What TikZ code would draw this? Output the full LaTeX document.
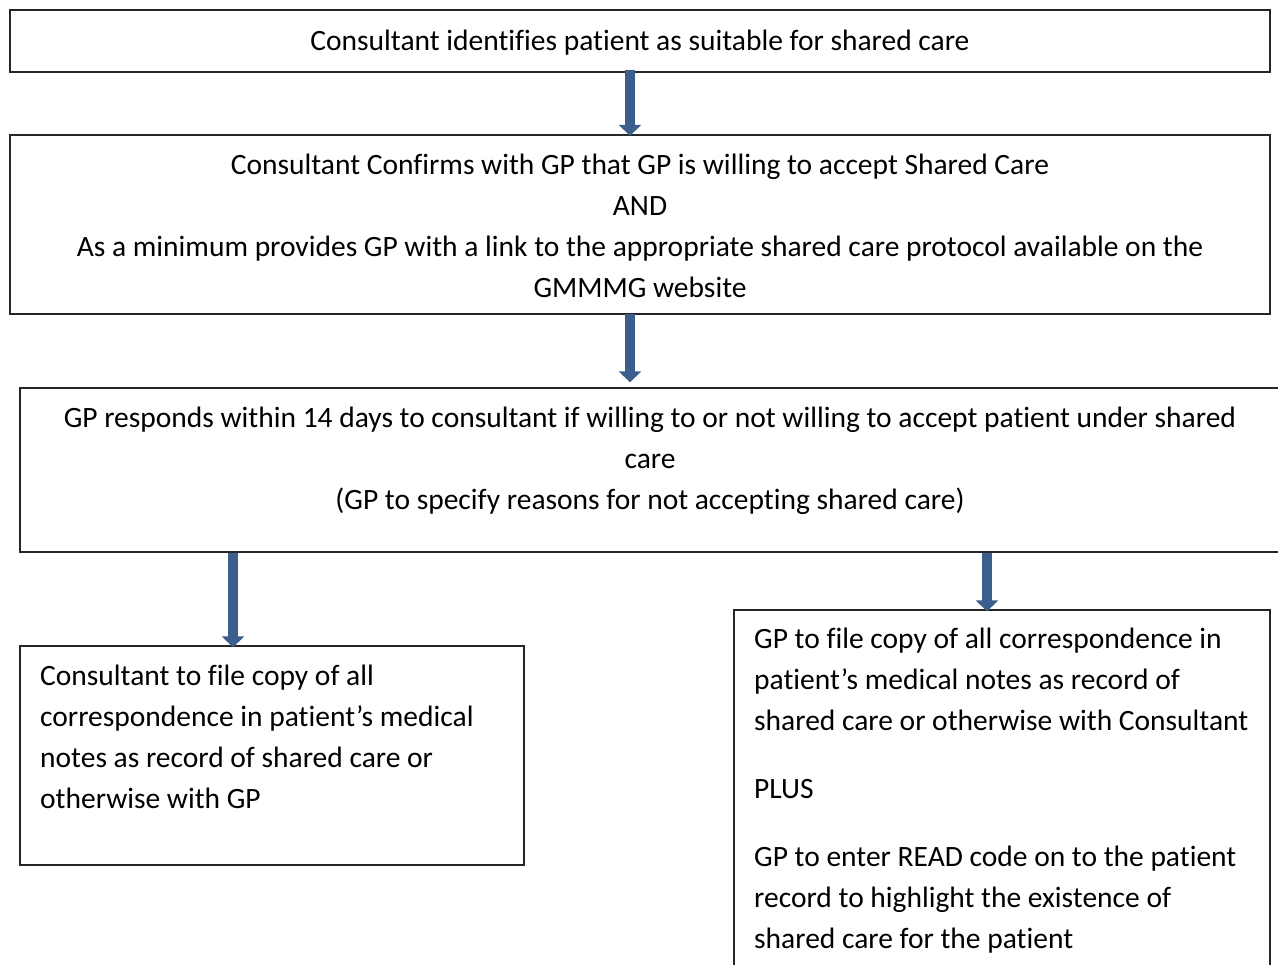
\documentclass[tikz,border=0pt]{standalone}
\usepackage{fontspec}
\setmainfont[Ligatures=NoCommon]{Carlito}
\usetikzlibrary{arrows.meta,positioning}
\definecolor{arrowblue}{RGB}{59,94,140}

\begin{document}
\begin{tikzpicture}[x=1pt,y=-1pt,
  box/.style={draw=black!85, line width=1.3pt, rectangle, inner sep=0pt},
  txt/.style={inner sep=0pt, font=\fontsize{29.5}{41}\selectfont},
  flowarrow/.style={draw=arrowblue, line width=10pt,
    -{Triangle[width=22pt,length=11pt]}}
]
\path[use as bounding box, clip] (0,0) rectangle (1278,965);

% boxes
\node[box, minimum width=1260, minimum height=62] (consult) at (640,41) {};
\node[box, minimum width=1260, minimum height=179] (confirm) at (640,224.5) {};
\node[box, minimum width=1260, minimum height=164] (gpresp) at (650,470) {};
\node[box, minimum width=504, minimum height=219] (consfile) at (272,755.5) {};
\node[box, minimum width=536, minimum height=400] (gpfile) at (1002,810) {};

% texts
\node[txt] (consulttxt) at (640,42.5) {Consultant identifies patient as suitable for shared care};
\node[txt, align=center] (confirmtxt) at (640,225.5)
  {Consultant Confirms with GP that GP is willing to accept Shared Care\\
   AND\\
   As a minimum provides GP with a link to the appropriate shared care protocol available on the\\
   GMMMG website};
\node[txt, align=center] (gpresptxt) at (650,461)
  {GP responds within 14 days to consultant if willing to or not willing to accept patient under shared\\
   care\\
   (GP to specify reasons for not accepting shared care)};
\node[txt, align=left, anchor=west] (consfiletxt) at (40,736.5)
  {Consultant to file copy of all\\
   correspondence in patient’s medical\\
   notes as record of shared care or\\
   otherwise with GP};
\node[txt, align=left, anchor=west] (gpfiletxt) at (754,790.5)
  {GP to file copy of all correspondence in\\
   patient’s medical notes as record of\\
   shared care or otherwise with Consultant\\[27pt]
   PLUS\\[27pt]
   GP to enter READ code on to the patient\\
   record to highlight the existence of\\
   shared care for the patient};

% arrows
\draw[flowarrow] ([xshift=-10pt,yshift=3pt]consult.south) -- ([xshift=-10pt,yshift=-1.5pt]confirm.north);
\draw[flowarrow] ([xshift=-10pt,yshift=1pt]confirm.south) -- ([xshift=-20pt,yshift=5pt]gpresp.north);
\draw[flowarrow] ([xshift=-39pt]consfile.north |- gpresp.south) -- ([xshift=-39pt,yshift=-2pt]consfile.north);
\draw[flowarrow] ([xshift=-15pt]gpfile.north |- gpresp.south) -- ([xshift=-15pt,yshift=-2pt]gpfile.north);

\end{tikzpicture}
\end{document}
